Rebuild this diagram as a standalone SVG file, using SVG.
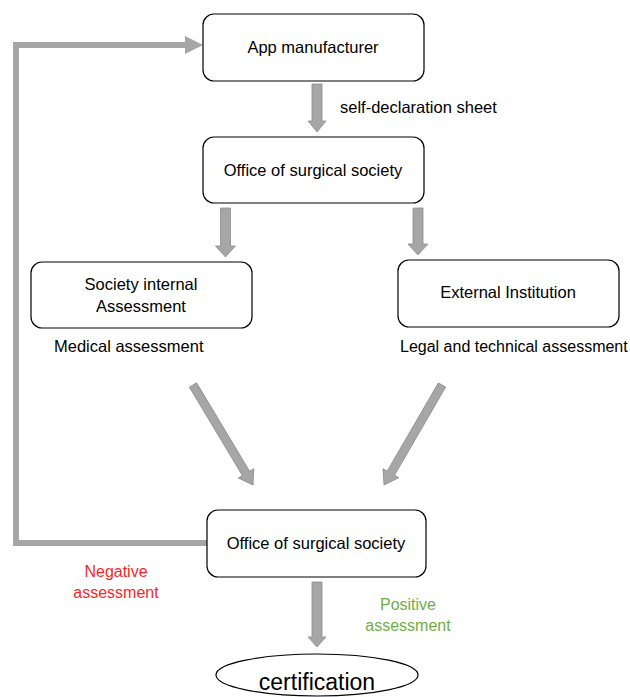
<svg xmlns="http://www.w3.org/2000/svg" width="630" height="697" viewBox="0 0 630 697">
<style>
.box{fill:#fff;stroke:#000;stroke-width:1.2}
.t{font-family:"Liberation Sans",Arial,sans-serif;font-size:16.5px;fill:#000;text-anchor:middle}
.l{font-family:"Liberation Sans",Arial,sans-serif;font-size:16.5px;fill:#000}
.arr{fill:#a6a6a6;stroke:#8e8e8e;stroke-width:0.8}
.fb{fill:none;stroke:#a6a6a6;stroke-width:6}
</style>
<rect width="630" height="697" fill="#fff"/>
<g id="connectors">
  <path class="fb" d="M207,543 H16 V45 H186"/>
  <polygon points="185,36 203,45 185,54" fill="#a6a6a6"/>
  <polygon class="arr" points="312,84 322,84 322,121 326,121 317,132 308,121 312,121"/>
  <polygon class="arr" points="220.5,208 230.5,208 230.5,246 235.5,246 225.5,257 215.5,246 220.5,246"/>
  <polygon class="arr" points="413,208 423,208 423,244 428,244 418,255 408,244 413,244"/>
  <polygon class="arr" points="312,582 322,582 322,637 326,637 317,647 308,637 312,637"/>
  <path class="arr" transform="translate(193,385) rotate(59.04)" d="M0,-4.2 H103 V-9 L116.6,0 L103,9 V4.2 H0 Z"/>
  <path class="arr" transform="translate(442,385) rotate(120.1)" d="M0,-4.2 H102 V-9 L115.6,0 L102,9 V4.2 H0 Z"/>
</g>
<g id="app">
  <rect class="box" x="203" y="14" width="221" height="67" rx="11"/>
  <text class="t" x="313" y="53">App manufacturer</text>
</g>
<text class="l" x="340" y="113">self-declaration sheet</text>
<g id="office1">
  <rect class="box" x="203" y="137" width="221" height="66" rx="11"/>
  <text class="t" x="313" y="176">Office of surgical society</text>
</g>
<g id="internal">
  <rect class="box" x="31" y="262" width="221" height="66" rx="11"/>
  <text class="t" x="141" y="290">Society internal</text>
  <text class="t" x="141" y="312">Assessment</text>
</g>
<text class="l" x="54" y="352">Medical assessment</text>
<g id="external">
  <rect class="box" x="398" y="260" width="221" height="67" rx="11"/>
  <text class="t" x="508" y="298">External Institution</text>
</g>
<text class="l" x="400" y="352" style="font-size:16px">Legal and technical assessment</text>
<g id="office2">
  <rect class="box" x="207" y="510" width="219" height="67" rx="11"/>
  <text class="t" x="316" y="549">Office of surgical society</text>
</g>
<text class="t" x="116" y="577" style="fill:#ff1f1f;font-size:16px">Negative</text>
<text class="t" x="116" y="598" style="fill:#ff1f1f;font-size:16px">assessment</text>
<text class="t" x="408" y="610" style="fill:#70ad47;font-size:16px">Positive</text>
<text class="t" x="408" y="631" style="fill:#70ad47;font-size:16px">assessment</text>
<g id="certification">
  <ellipse class="box" cx="317" cy="675" rx="101" ry="21"/>
  <text class="t" x="317" y="690" style="font-size:23px">certification</text>
</g>
</svg>
